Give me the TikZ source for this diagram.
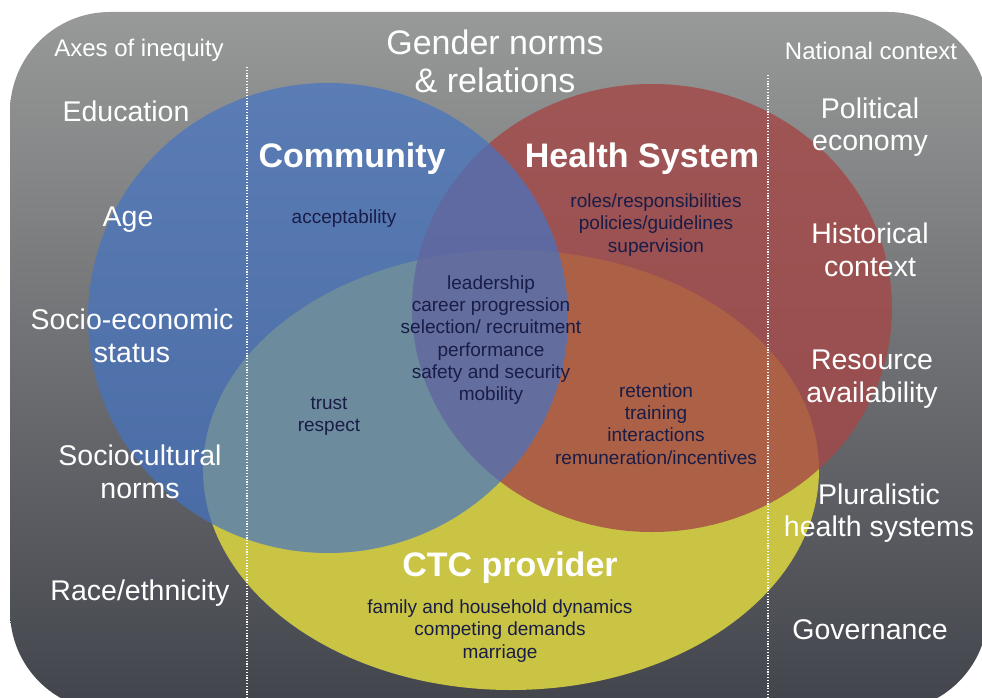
\documentclass[tikz,border=0pt]{standalone}
\usepackage{fontspec}
\setmainfont{Liberation Sans}
\definecolor{navy}{RGB}{25,28,70}
\definecolor{ycol}{RGB}{201,196,68}
\definecolor{rcol}{RGB}{165,71,71}
\definecolor{bcol}{RGB}{69,116,196}
\definecolor{bgtop}{RGB}{152,154,153}
\definecolor{bgbot}{RGB}{66,68,76}
\begin{document}
\begin{tikzpicture}[x=1pt,y=-1pt,
  hdr/.style={text=white,font=\fontsize{24}{28}\selectfont,inner sep=0pt},
  gnd/.style={text=white,font=\fontsize{34}{38}\selectfont,align=center,inner sep=0pt},
  bigw/.style={text=white,font=\fontsize{28.5}{32.5}\selectfont,align=center,inner sep=0pt},
  ttl/.style={text=white,font=\fontsize{34}{38}\selectfont\bfseries,inner sep=0pt},
  lbl/.style={text=navy,font=\fontsize{19}{22.2}\selectfont,align=center,inner sep=0pt},
  dotl/.style={white,line width=1.2pt,dash pattern=on 1.2pt off 1.6pt}]
\useasboundingbox (0,0) rectangle (982,698);
\begin{scope}
\clip (0,0) rectangle (982,698);
\shade[top color=bgtop, bottom color=bgbot, rounded corners=100pt] (10,12) rectangle (988,711);
\fill[ycol] (511,470) ellipse [x radius=308, y radius=220];
\fill[rcol, fill opacity=0.8] (652,308) ellipse [x radius=240, y radius=224];
\fill[bcol, fill opacity=0.7] (328,318) ellipse [x radius=240, y radius=235];
\coordinate (d1t) at (247,67);
\coordinate (d1b) at (247,698);
\coordinate (d2t) at (768,75);
\coordinate (d2b) at (768,698);
\draw[dotl] (d1t) -- (d1b);
\draw[dotl] (d2t) -- (d2b);
\end{scope}
% headers
\node[hdr] (axes) at (139,50) {Axes of inequity};
\node[gnd] (gender) at (495,61) {Gender norms\\\& relations};
\node[hdr] (natc) at (871,51) {National context};
% left column
\node[bigw] (edu) at (126,111) {Education};
\node[bigw] (age) at (128,220) {Age};
\node[bigw] (ses) at (132,336) {Socio-economic\\status};
\node[bigw] (scn) at (140,472) {Sociocultural\\norms};
\node[bigw] (race) at (140,593) {Race/ethnicity};
% right column
\node[bigw] (pol) at (870,127) {Political\\economy};
\node[bigw] (hist) at (870,250) {Historical\\context};
\node[bigw] (res) at (872,379) {Resource\\availability};
\node[bigw] (plu) at (879,513) {Pluralistic\\health systems};
\node[bigw] (gov) at (870,630) {Governance};
% titles
\node[ttl] (comm) at (352,159) {Community};
\node[ttl] (hs) at (642,159) {Health System};
\node[ttl] (ctc) at (510,568) {CTC provider};
% inner labels
\node[lbl] (acc) at (344,219) {acceptability};
\node[lbl] (roles) at (656,225) {roles/responsibilities\\policies/guidelines\\supervision};
\node[lbl] (lead) at (491,340) {leadership\\career progression\\selection/ recruitment\\performance\\safety and security\\mobility};
\node[lbl] (trust) at (329,416) {trust\\respect};
\node[lbl] (ret) at (656,424) {retention\\training\\interactions\\remuneration/incentives};
\node[lbl] (fam) at (500,631) {family and household dynamics\\competing demands\\marriage};
\end{tikzpicture}
\end{document}
